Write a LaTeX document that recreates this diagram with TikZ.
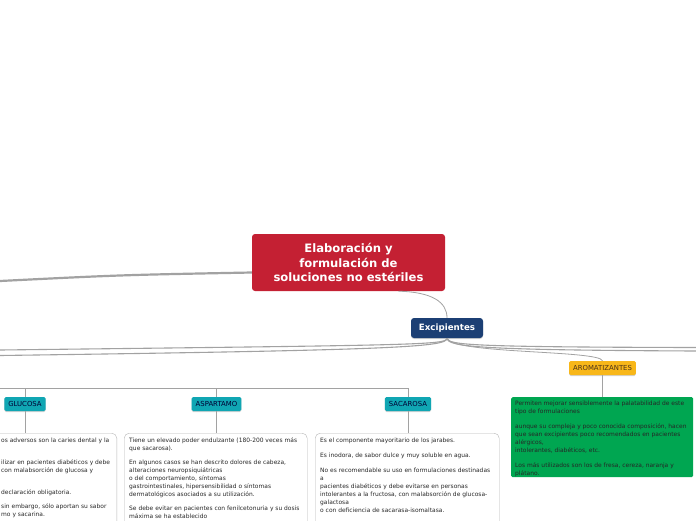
\documentclass[tikz,border=0pt]{standalone}
\usepackage{fontspec}
\setmainfont{DejaVu Sans}
\usetikzlibrary{positioning,shadows}
\definecolor{titlered}{HTML}{C42033}
\definecolor{excipblue}{HTML}{1C3F74}
\definecolor{labteal}{HTML}{10A6B3}
\definecolor{labgold}{HTML}{F8B719}
\definecolor{notegreen}{HTML}{00A651}
\definecolor{linegray}{HTML}{A2A2A2}
\definecolor{framegray}{HTML}{B4B4B4}
\begin{document}
\begin{tikzpicture}[x=1pt, y=-1pt, every node/.style={font=\fontsize{5.95}{8.0}\selectfont, text=black!85}]
\tikzstyle{topic}=[rounded corners=3pt, text=white, align=center, inner sep=0pt]
\tikzstyle{tag}=[rounded corners=1.5pt, minimum height=14pt, inner xsep=4pt, inner ysep=0pt, font=\fontsize{6.9}{8}\selectfont, drop shadow={shadow xshift=0pt, shadow yshift=-1pt, opacity=.35}]
\tikzstyle{note}=[draw=framegray, rounded corners=5pt, anchor=north west, inner sep=0pt]
\tikzstyle{notetext}=[anchor=north west, align=left, inner sep=0pt]
\tikzstyle{branch}=[draw=linegray, line width=1.1pt]
\tikzstyle{stem}=[draw=linegray, line width=0.8pt]
\useasboundingbox (0,0) rectangle (696,520);

\node[topic, fill=titlered, minimum width=193pt, minimum height=57pt, font=\bfseries\fontsize{11.6}{14.2}\selectfont] (title) at (348.5,262.5) {Elaboración y\\formulación de\\soluciones no estériles};
\node[topic, fill=excipblue, minimum width=72pt, minimum height=20pt, font=\bfseries\fontsize{8.7}{10}\selectfont, drop shadow={shadow xshift=0pt, shadow yshift=-1pt, opacity=.35}] (excip) at (447,328) {Excipientes};

\node[tag, fill=labteal, text=black!80!blue] (glucosa) at (25,404) {GLUCOSA};
\node[tag, fill=labteal, text=black!80!blue] (aspartamo) at (216.5,404) {ASPARTAMO};
\node[tag, fill=labteal, text=black!80!blue] (sacarosa) at (408,404) {SACAROSA};
\node[tag, fill=labgold, text=black!60!brown] (arom) at (602.5,368) {AROMATIZANTES};

\coordinate (titleL) at (0,281);
\coordinate (leftA) at (0,350);
\coordinate (leftB) at (0,355.5);
\coordinate (rightA) at (696,347.5);
\coordinate (rightB) at (696,351);
\coordinate (treeL) at (0,388);

\draw[draw=linegray, line width=2.2pt] ([yshift=-10pt]title.west) .. controls (120,275) .. (titleL);
\draw[stem] ([xshift=50pt]title.south) .. controls (432,292) and (447,302) .. (excip.north);
\draw[branch] (excip.south) .. controls (447,345) and (420,345) .. (leftA);
\draw[branch] (excip.south) .. controls (447,347) and (400,350) .. (leftB);
\draw[branch] (excip.south) .. controls (448,345) and (470,347) .. (rightA);
\draw[branch] (excip.south) .. controls (448,347) and (480,350) .. (rightB);
\draw[stem] (excip.south) .. controls (452,354) and (600,350) .. (arom.north);

\draw[stem] (treeL) -| (glucosa.north);
\draw[stem] (treeL) -| (aspartamo.north);
\draw[stem] (treeL) -| (sacarosa.north);

\node[note, minimum width=220pt, minimum height=110pt, anchor=north east] (gluBox) at (117,433) {};
\node[note, minimum width=183pt, minimum height=110pt] (aspBox) at (124,433) {};
\node[note, minimum width=184pt, minimum height=110pt] (sacBox) at (315,433) {};
\node[note, draw=none, fill=notegreen, rounded corners=1.5pt, minimum width=182pt, minimum height=80pt] (aromBox) at (511,397) {};

\draw[stem] (glucosa.south) -- (glucosa.south |- gluBox.north);
\draw[stem] (aspartamo.south) -- (aspartamo.south |- aspBox.north);
\draw[stem] (sacarosa.south) -- (sacarosa.south |- sacBox.north);
\draw[stem] (arom.south) -- (aromBox.north -| arom.south);

\node[notetext] (gluText) at (1,437.5) {os adversos son la caries dental y la\\ \mbox{}\\[6pt]
ilizar en pacientes diabéticos y debe\\ con malabsorción de glucosa y\\ \mbox{}\\[6pt]
declaración obligatoria.\\[6pt]
sin embargo, sólo aportan su sabor\\ mo y sacarina.};

\node[notetext] (aspText) at (129,437.5) {Tiene un elevado poder endulzante (180-200 veces más\\
que sacarosa).\\[6pt]
En algunos casos se han descrito dolores de cabeza,\\
alteraciones neuropsiquiátricas\\
o del comportamiento, síntomas\\
gastrointestinales, hipersensibilidad o síntomas\\
dermatológicos asociados a su utilización.\\[6pt]
Se debe evitar en pacientes con fenilcetonuria y su dosis\\
máxima se ha establecido};

\node[notetext] (sacText) at (320,437.5) {Es el componente mayoritario de los jarabes.\\[7pt]
Es inodora, de sabor dulce y muy soluble en agua.\\[7pt]
No es recomendable su uso en formulaciones destinadas\\
a\\
pacientes diabéticos y debe evitarse en personas\\
intolerantes a la fructosa, con malabsorción de glucosa-\\
galactosa\\
o con deficiencia de sacarasa-isomaltasa.};

\node[notetext] (aromText) at (515,400.5) {Permiten mejorar sensiblemente la palatabilidad de este\\
tipo de formulaciones\\[7pt]
aunque su compleja y poco conocida composición, hacen\\
que sean excipientes poco recomendados en pacientes\\
alérgicos,\\
intolerantes, diabéticos, etc.\\[7pt]
Los más utilizados son los de fresa, cereza, naranja y\\
plátano.};
\end{tikzpicture}
\end{document}
